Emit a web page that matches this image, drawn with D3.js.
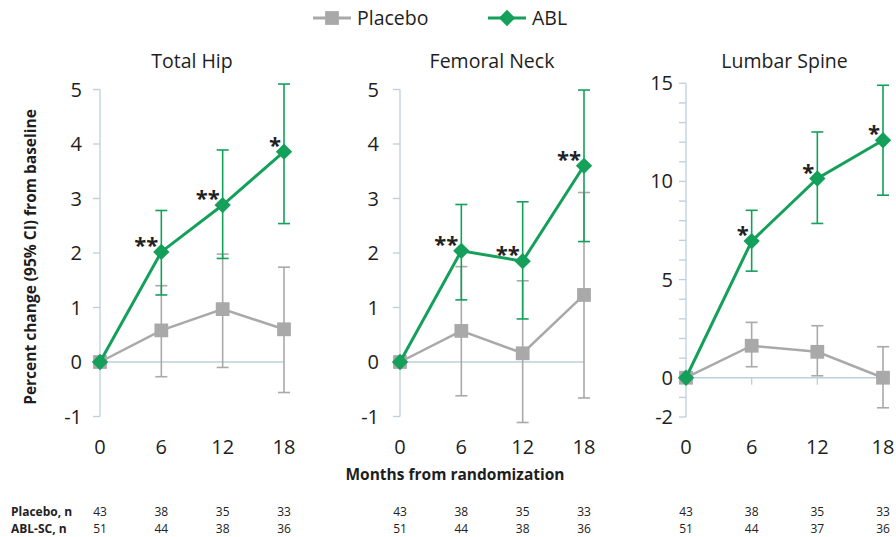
<!DOCTYPE html>
<html>
<head>
<meta charset="utf-8">
<script src="https://cdn.jsdelivr.net/npm/d3@7"></script>
<style>
	body { margin: 0; background: #fff; }
	svg { display: block; font-family: "Open Sans", "Noto Sans", sans-serif; }
	.axis_line { stroke: #bccfdc; stroke-width: 1.3; fill: none; }
	.tick_lbl { font-size: 20px; fill: #1e1e1e; }
	.panel_title { font-size: 19.5px; fill: #1e1e1e; }
	.star { font-size: 22px; font-weight: bold; fill: #222; }
	.n_lbl { font-size: 12px; fill: #222; }
</style>
</head>
<body>
<svg id="chart" width="896" height="537"></svg>
<script>
const months = [0, 6, 12, 18];
const panelNames = ['Total Hip', 'Femoral Neck', 'Lumbar Spine'];

// placebo means and 95% CI per panel
const placeboMean = [
	[0, 0.58, 0.97, 0.60],
	[0, 0.57, 0.16, 1.23],
	[0, 1.63, 1.32, 0.0]
];
const placeboLow = [
	[0, -0.27, -0.10, -0.56],
	[0, -0.62, -1.11, -0.66],
	[0, 0.56, 0.10, -1.53]
];
const placeboHigh = [
	[0, 1.40, 1.98, 1.74],
	[0, 1.75, 1.49, 3.11],
	[0, 2.82, 2.65, 1.58]
];

// ABL means and 95% CI per panel
const ablMean = [
	[0, 2.02, 2.88, 3.86],
	[0, 2.04, 1.85, 3.60],
	[0, 6.96, 10.15, 12.10]
];
const ablLow = [
	[0, 1.23, 1.90, 2.54],
	[0, 1.14, 0.79, 2.21],
	[0, 5.43, 7.86, 9.30]
];
const ablHigh = [
	[0, 2.78, 3.89, 5.10],
	[0, 2.89, 2.94, 4.99],
	[0, 8.53, 12.52, 14.90]
];

const stars = [
	['', '**', '**', '*'],
	['', '**', '**', '**'],
	['', '*', '*', '*']
];

const yDomains = [[-1, 5], [-1, 5], [-2, 15]];
const yTickLabels = [[-1, 0, 1, 2, 3, 4, 5], [-1, 0, 1, 2, 3, 4, 5], [-2, 0, 5, 10, 15]];

const nPlacebo = [[43, 38, 35, 33], [43, 38, 35, 33], [43, 38, 35, 33]];
const nAbl = [[51, 44, 38, 36], [51, 44, 38, 36], [51, 44, 37, 36]];

const cGreen = '#14a05a';
const cGrey = '#a9a9a9';

// layout of each panel (pixels)
const panelLayout = [
	{x0: 100, x1: 284, yTop: 89.5, yBot: 416.5, lblOff: 18},
	{x0: 400, x1: 584, yTop: 89.5, yBot: 416.5, lblOff: 21},
	{x0: 686, x1: 883, yTop: 83.3, yBot: 417, lblOff: 13}
];

const svg = d3.select('#chart');

panelLayout.forEach((lay, p) => {
	const g = svg.append('g').attr('class', 'panel panel_' + p);
	const x = d3.scaleLinear().domain([0, 18]).range([lay.x0, lay.x1]);
	const y = d3.scaleLinear().domain(yDomains[p]).range([lay.yBot, lay.yTop]);

	// y axis line and ticks
	g.append('line')
		.attr('class', 'axis_line')
		.attr('x1', lay.x0).attr('x2', lay.x0)
		.attr('y1', y(yDomains[p][0])).attr('y2', y(yDomains[p][1]));

	const tickVals = d3.range(yDomains[p][0], yDomains[p][1] + 1, 1);
	g.selectAll('.y_tick')
		.data(tickVals).enter()
		.append('line')
		.attr('class', 'axis_line y_tick')
		.attr('x1', lay.x0 - 7).attr('x2', lay.x0)
		.attr('y1', d => y(d)).attr('y2', d => y(d));

	g.selectAll('.y_lbl')
		.data(yTickLabels[p]).enter()
		.append('text')
		.attr('class', 'tick_lbl y_lbl')
		.attr('x', lay.x0 - lay.lblOff)
		.attr('y', d => y(d) + 7)
		.attr('text-anchor', 'end')
		.text(d => d);

	// zero line
	g.append('line')
		.attr('class', 'axis_line')
		.attr('x1', x(0)).attr('x2', x(18))
		.attr('y1', y(0)).attr('y2', y(0));

	if (p == 2) {
		g.selectAll('.x_tick')
			.data(months.slice(1)).enter()
			.append('line')
			.attr('class', 'axis_line x_tick')
			.attr('x1', d => x(d)).attr('x2', d => x(d))
			.attr('y1', y(0)).attr('y2', y(0) + 7);
	}

	g.selectAll('.x_lbl')
		.data(months).enter()
		.append('text')
		.attr('class', 'tick_lbl x_lbl')
		.attr('x', d => x(d))
		.attr('y', 454)
		.attr('text-anchor', 'middle')
		.text(d => d);

	g.append('text')
		.attr('class', 'panel_title')
		.attr('x', (lay.x0 + lay.x1) / 2)
		.attr('y', 68)
		.attr('text-anchor', 'middle')
		.text(panelNames[p]);

	const series = [
		{mean: placeboMean[p], lo: placeboLow[p], hi: placeboHigh[p], color: cGrey, w: 2.5, shape: 'square'},
		{mean: ablMean[p], lo: ablLow[p], hi: ablHigh[p], color: cGreen, w: 3, shape: 'diamond'}
	];

	series.forEach(s => {
		const pts = months.map((m, i) => ({m: m, v: s.mean[i], lo: s.lo[i], hi: s.hi[i]}));
		const bars = pts.filter(d => d.m > 0);

		g.selectAll(null)
			.data(bars).enter()
			.append('line')
			.attr('x1', d => x(d.m)).attr('x2', d => x(d.m))
			.attr('y1', d => y(d.lo)).attr('y2', d => y(d.hi))
			.style('stroke', s.color).style('stroke-width', 1.6);

		['lo', 'hi'].forEach(k => {
			g.selectAll(null)
				.data(bars).enter()
				.append('line')
				.attr('x1', d => x(d.m) - 6).attr('x2', d => x(d.m) + 6)
				.attr('y1', d => y(d[k])).attr('y2', d => y(d[k]))
				.style('stroke', s.color).style('stroke-width', 1.6);
		});

		g.append('path')
			.datum(pts)
			.attr('d', d3.line().x(d => x(d.m)).y(d => y(d.v)))
			.style('fill', 'none')
			.style('stroke', s.color)
			.style('stroke-width', s.w);

		const sym = s.shape == 'square'
			? d3.symbol().type(d3.symbolSquare).size(190)
			: d3.symbol().type(d3.symbolDiamond2).size(170);
		g.selectAll(null)
			.data(pts).enter()
			.append('path')
			.attr('d', sym)
			.attr('transform', d => 'translate(' + x(d.m) + ',' + y(d.v) + ')')
			.style('fill', s.color);
	});

	// significance stars
	g.selectAll('.star')
		.data(months.map((m, i) => ({m: m, v: ablMean[p][i], s: stars[p][i]})).filter(d => d.s)).enter()
		.append('text')
		.attr('class', 'star')
		.attr('x', d => x(d.m) - 3)
		.attr('y', d => y(d.v) + 1)
		.attr('text-anchor', 'end')
		.text(d => d.s);

	// n at risk
	g.selectAll('.n_plc')
		.data(months).enter()
		.append('text')
		.attr('class', 'n_lbl')
		.attr('x', d => x(d)).attr('y', 516)
		.attr('text-anchor', 'middle')
		.text((d, i) => nPlacebo[p][i]);
	g.selectAll('.n_abl')
		.data(months).enter()
		.append('text')
		.attr('class', 'n_lbl')
		.attr('x', d => x(d)).attr('y', 533)
		.attr('text-anchor', 'middle')
		.text((d, i) => nAbl[p][i]);
});

svg.append('text').attr('class', 'n_lbl').attr('x', 11).attr('y', 516)
	.style('font-weight', 'bold').text('Placebo, n');
svg.append('text').attr('class', 'n_lbl').attr('x', 11).attr('y', 533)
	.style('font-weight', 'bold').text('ABL-SC, n');

svg.append('text')
	.attr('transform', 'translate(36,257) rotate(-90)')
	.attr('text-anchor', 'middle')
	.style('font-size', '15.5px').style('font-weight', 'bold').style('fill', '#1e1e1e')
	.text('Percent change (95% CI) from baseline');

svg.append('text')
	.attr('x', 455).attr('y', 480)
	.attr('text-anchor', 'middle')
	.style('font-size', '15.5px').style('font-weight', 'bold').style('fill', '#1e1e1e')
	.text('Months from randomization');

// legend
const legend = svg.append('g').attr('class', 'legend');
const legendItems = [
	{name: 'Placebo', color: cGrey, x: 313, sym: d3.symbol().type(d3.symbolSquare).size(190)},
	{name: 'ABL', color: cGreen, x: 488, sym: d3.symbol().type(d3.symbolDiamond2).size(170)}
];
legendItems.forEach(it => {
	legend.append('line')
		.attr('x1', it.x).attr('x2', it.x + 38)
		.attr('y1', 18).attr('y2', 18)
		.style('stroke', it.color).style('stroke-width', 3);
	legend.append('path')
		.attr('d', it.sym)
		.attr('transform', 'translate(' + (it.x + 19) + ',18)')
		.style('fill', it.color);
	legend.append('text')
		.attr('x', it.x + 44).attr('y', 25)
		.style('font-size', '19.5px').style('fill', '#1e1e1e')
		.text(it.name);
});
</script>
</body>
</html>
